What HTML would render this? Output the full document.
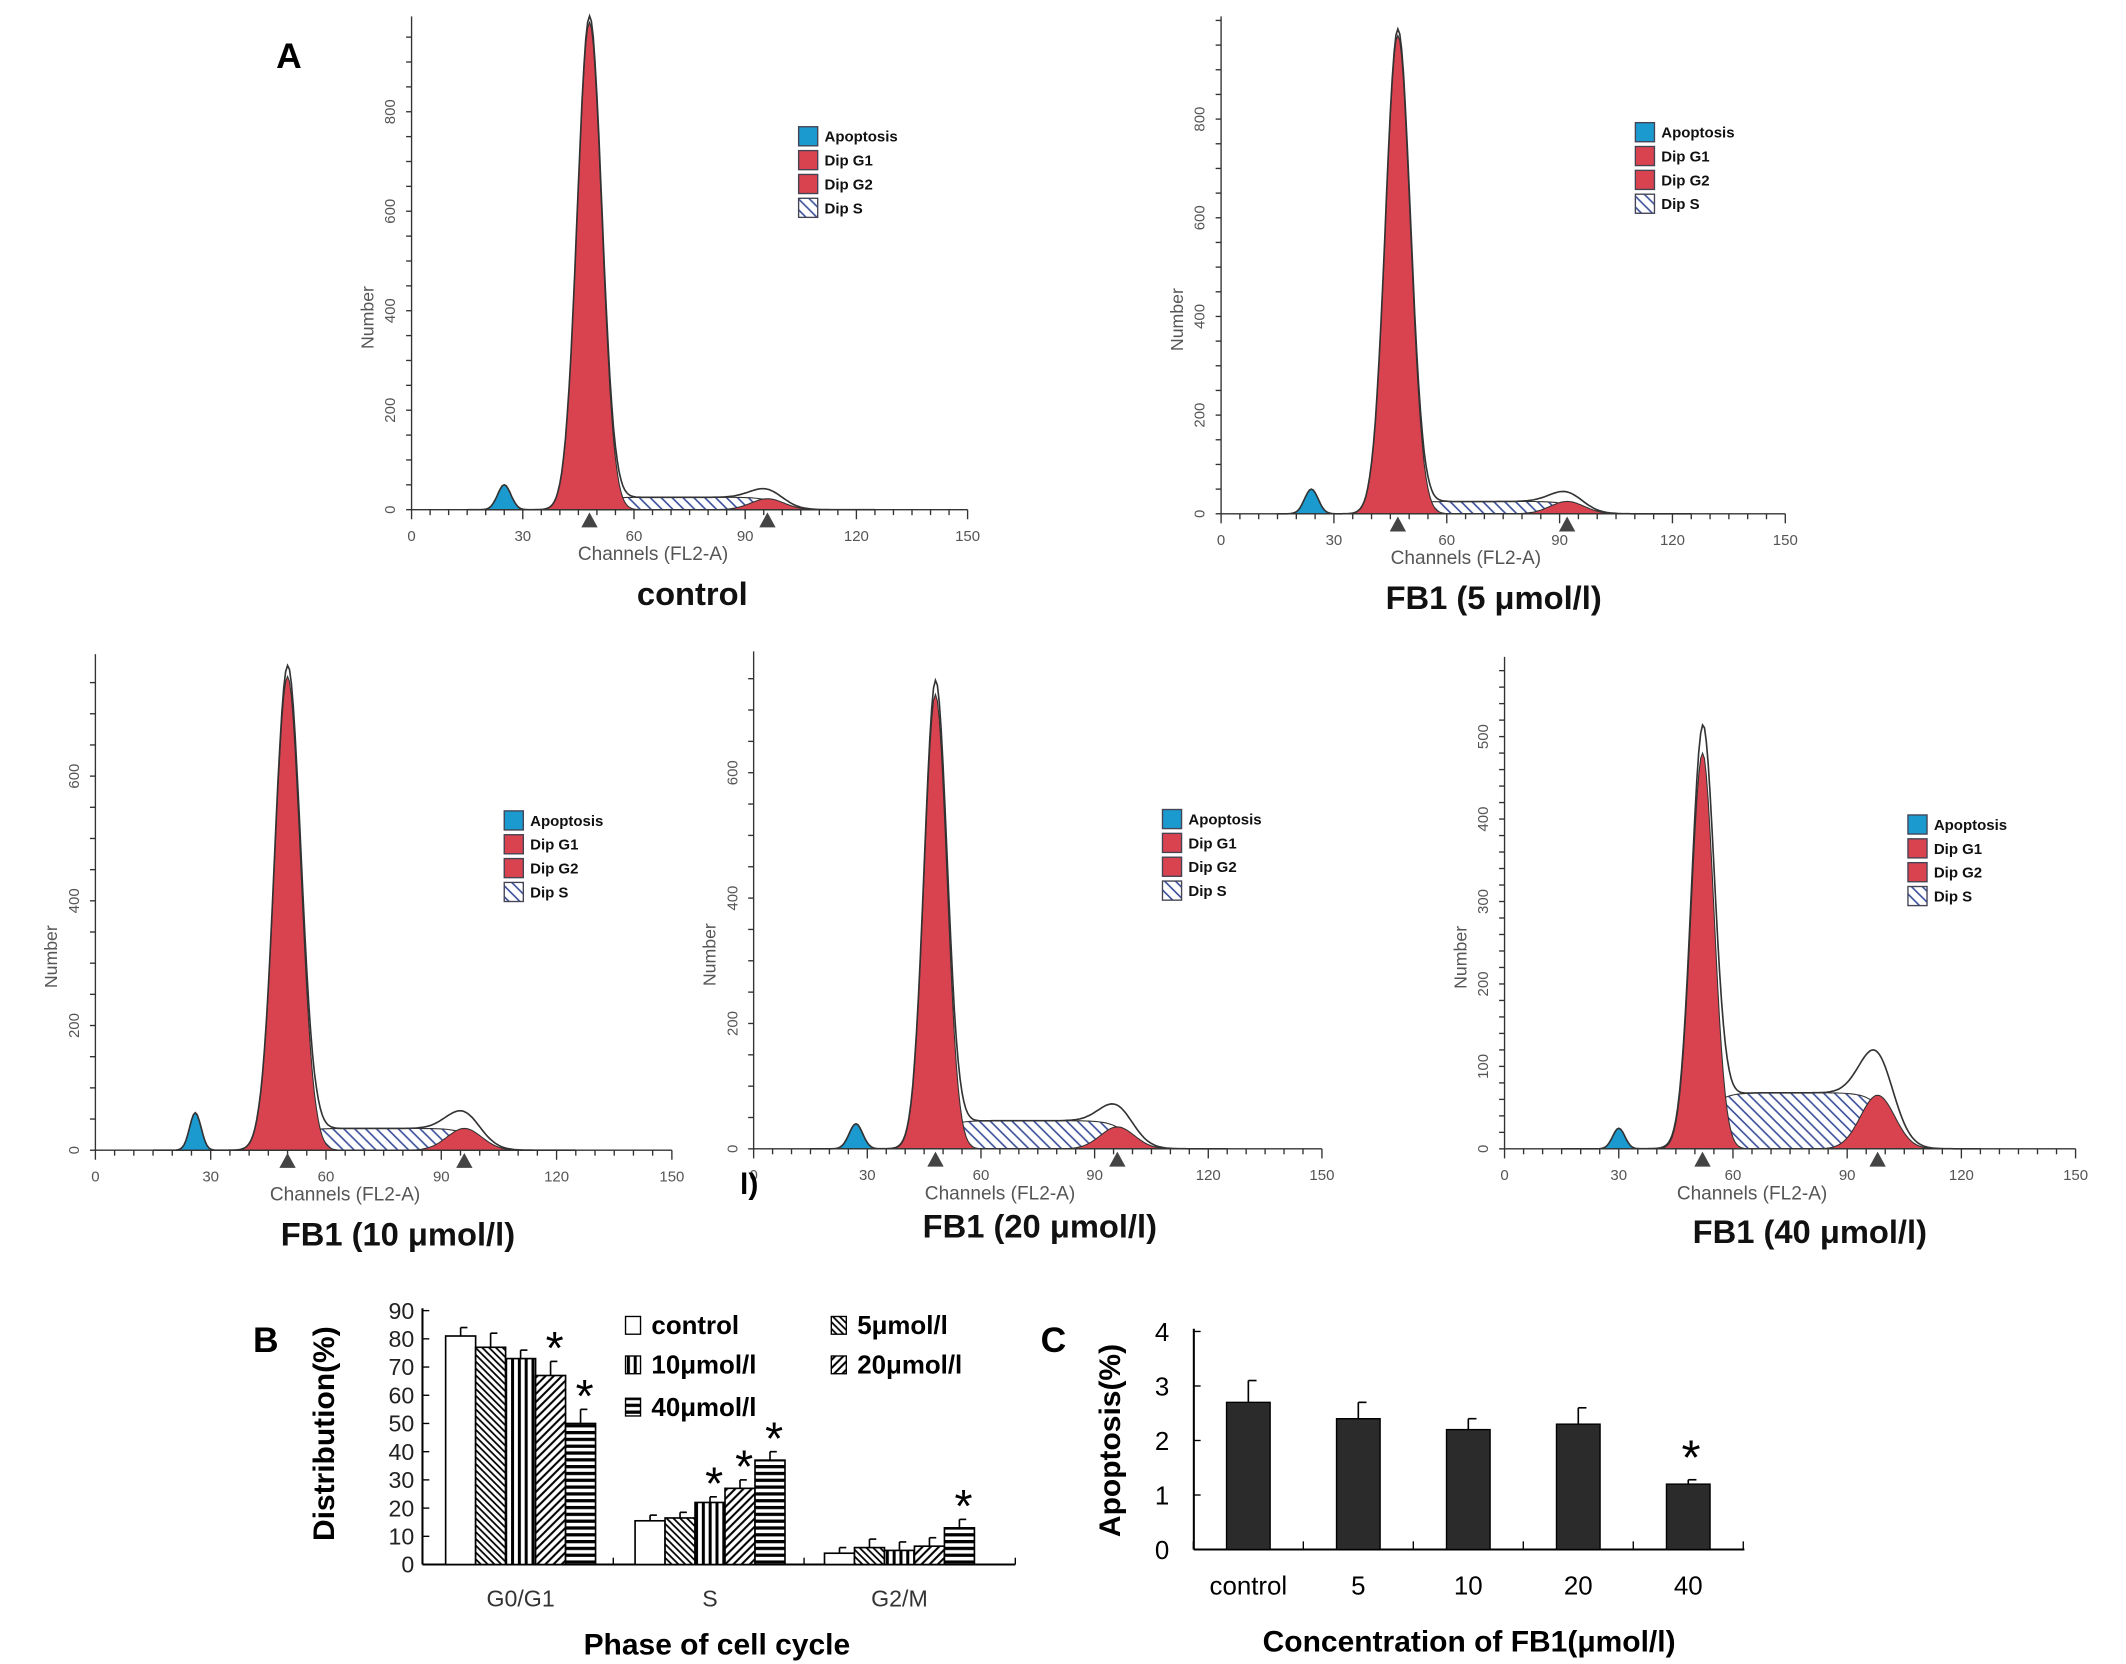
<!DOCTYPE html>
<html><head><meta charset="utf-8"><style>
html,body{margin:0;padding:0;background:#fff}
svg{display:block}
text{font-family:"Liberation Sans",sans-serif}
</style></head><body>
<svg id="fig" width="2126" height="1664" viewBox="0 0 1560 1221" preserveAspectRatio="none" xmlns="http://www.w3.org/2000/svg">
<defs>
<pattern id="hatchS" width="8" height="8" patternUnits="userSpaceOnUse"><rect width="8" height="8" fill="#fff"/><path d="M0,0 L8,8 M-4,4 L4,12 M4,-4 L12,4" stroke="#3a4e9a" stroke-width="1.2"/></pattern>
<pattern id="pBack" width="5" height="5" patternUnits="userSpaceOnUse"><rect width="5" height="5" fill="#fff"/><path d="M0,0 L5,5 M-2.5,2.5 L2.5,7.5 M2.5,-2.5 L7.5,2.5" stroke="#000" stroke-width="1.3"/></pattern>
<pattern id="pVert" width="5" height="5" patternUnits="userSpaceOnUse"><rect width="5" height="5" fill="#fff"/><rect x="0" width="2.2" height="5" fill="#000"/></pattern>
<pattern id="pFwd" width="6" height="6" patternUnits="userSpaceOnUse"><rect width="6" height="6" fill="#fff"/><path d="M0,6 L6,0 M-3,3 L3,-3 M3,9 L9,3" stroke="#000" stroke-width="1.5"/></pattern>
<pattern id="pHor" width="5" height="5" patternUnits="userSpaceOnUse"><rect width="5" height="5" fill="#fff"/><rect y="0" width="5" height="2.4" fill="#000"/></pattern>
</defs>
<g id="root"></g>
</svg>
<script>
// ---------- Histogram panel data ----------
const panelNames = ["control","FB1 (5 \u03bcmol/l)","FB1 (10 \u03bcmol/l)","FB1 (20 \u03bcmol/l)","FB1 (40 \u03bcmol/l)"];
const apopPeak = [[25,50,1.8],[24,50,1.8],[26,60,1.5],[27,40,1.8],[30,25,1.6]];   // channel, height, sigma
const g1Peak = [[48,980,3.3],[47,970,3.3],[50,760,3.4],[48,725,3.0],[52,480,3.0]];
const g2Peak = [[96,22,4.5],[92,25,4.5],[96,35,4.5],[96,35,4.5],[98,65,4.5]];
const sLevel = [25,25,35,45,68];
const yTickVals = [[0,200,400,600,800],[0,200,400,600,800],[0,200,400,600],[0,200,400,600],[0,100,200,300,400,500]];
const yMinor = [50,50,50,50,20];
const xTicks = [0,30,60,90,120,150];
// ---------- Bar chart B ----------
const phases = ["G0/G1","S","G2/M"];
const groups = ["control","5\u03bcmol/l","10\u03bcmol/l","20\u03bcmol/l","40\u03bcmol/l"];
const distVals = [[81,77,73,67,50],[15.5,16.5,22,27,37],[4,6,5,6.5,13]];
const distErr = [[3,5,3,5,5],[2,2,2,3,3],[2,3,3,3,3]];
const distStar = [[0,0,0,1,1],[0,0,1,1,1],[0,0,0,0,1]];
const distTicks = [0,10,20,30,40,50,60,70,80,90];
// ---------- Bar chart C ----------
const concLabels = ["control","5","10","20","40"];
const apopVals = [2.7,2.4,2.2,2.3,1.2];
const apopErr = [0.4,0.3,0.2,0.3,0.08];
const apopStar = [0,0,0,0,1];
const apopTicks = [0,1,2,3,4];

const NS="http://www.w3.org/2000/svg";
const root=document.getElementById('root');
function el(tag,attrs,parent,txt){const e=document.createElementNS(NS,tag);for(const k in attrs)e.setAttribute(k,attrs[k]);if(txt!==undefined)e.textContent=txt;(parent||root).appendChild(e);return e;}

const layout=[
 {ox:302,oy:374,xw:408,ypx:0.365,top:12,lx:586,ly:93,tx:508,ty:444},
 {ox:896,oy:377,xw:414,ypx:0.362,top:12,lx:1200,ly:90,tx:1096,ty:447},
 {ox:70,oy:844,xw:423,ypx:0.4575,top:480,lx:370,ly:595,tx:292,ty:914},
 {ox:553,oy:843,xw:417,ypx:0.46,top:478,lx:853,ly:594,tx:763,ty:908},
 {ox:1104,oy:843,xw:419,ypx:0.605,top:482,lx:1400,ly:598,tx:1328,ty:912}
];
function gauss(x,p){return p[1]*Math.exp(-0.5*Math.pow((x-p[0])/p[2],2));}
function sig(x){return 1/(1+Math.exp(-x));}

panelNames.forEach((nm,i)=>{
 const L=layout[i];
 const g=el('g',{},root);
 
 
 const X=c=>L.ox+c/150*L.xw, Y=v=>L.oy-v*L.ypx;
 const a=apopPeak[i],g1=g1Peak[i],g2=g2Peak[i],s=sLevel[i];
 const sF=c=>s*sig((c-g1[0])/2.5)*sig((g2[0]+3-c)/2.5);
 const cs=[];for(let c=15;c<=125;c+=0.5)cs.push(c);
 const area=(f,fill,name)=>{let d='M'+X(cs[0])+','+Y(0);cs.forEach(c=>{d+=' L'+X(c).toFixed(1)+','+Y(f(c)).toFixed(1);});d+=' L'+X(cs[cs.length-1])+','+Y(0)+'Z';
  const p=el('path',{d:d,fill:fill,stroke:'#333','stroke-width':0.8},g);};
 area(sF,'url(#hatchS)','s-phase-area');
 area(c=>gauss(c,g2),'#d9434f','g2-area');
 area(c=>gauss(c,g1),'#d9434f','g1-area');
 area(c=>gauss(c,a),'#1b9ad0','apoptosis-area');
 let d='';cs.forEach((c,k)=>{const v=gauss(c,a)+gauss(c,g1)+gauss(c,g2)+sF(c);d+=(k?' L':'M')+X(c).toFixed(1)+','+Y(v).toFixed(1);});
 const ln=el('path',{d:d,fill:'none',stroke:'#333','stroke-width':1.2},g);
 
 el('line',{x1:L.ox,y1:L.top,x2:L.ox,y2:L.oy,stroke:'#333','stroke-width':1},g);
 el('line',{x1:L.ox,y1:L.oy,x2:X(150),y2:L.oy,stroke:'#333','stroke-width':1},g);
 for(let c=0;c<=150;c+=5){const big=c%30==0;el('line',{x1:X(c),y1:L.oy,x2:X(c),y2:L.oy+(big?7:4),stroke:'#333','stroke-width':1},g);}
 xTicks.forEach(c=>{const t=el('text',{x:X(c),y:L.oy+23,'font-size':11,fill:'#555','text-anchor':'middle'},g,String(c));});
 const maxV=(L.oy-L.top)/L.ypx;
 for(let v=0;v<=maxV;v+=yMinor[i]){el('line',{x1:L.ox,y1:Y(v),x2:L.ox-4,y2:Y(v),stroke:'#333','stroke-width':1},g);}
 yTickVals[i].forEach(v=>{const t=el('text',{x:L.ox-12,y:Y(v),'font-size':11,fill:'#555','text-anchor':'middle',transform:`rotate(-90 ${L.ox-12} ${Y(v)})`},g,String(v));});
 const yt=el('text',{x:L.ox-28,y:(L.oy+L.top)/2+40,'font-size':13,fill:'#555','text-anchor':'middle',transform:`rotate(-90 ${L.ox-28} ${(L.oy+L.top)/2+40})`},g,'Number');
 
 const xt=el('text',{x:X(60)+14,y:L.oy+37,'font-size':14,fill:'#555','text-anchor':'middle'},g,'Channels (FL2-A)');
 
 [g1[0],g2[0]].forEach(c=>{el('path',{d:`M${X(c)-6},${L.oy+13} L${X(c)+6},${L.oy+13} L${X(c)},${L.oy+2}Z`,fill:'#444'},g);});
 const lg=el('g',{},g);
 [['Apoptosis','#1b9ad0'],['Dip G1','#d9434f'],['Dip G2','#d9434f'],['Dip S','url(#hatchS)']].forEach((e,k)=>{
  el('rect',{x:L.lx,y:L.ly+k*17.5,width:14,height:14,fill:e[1],stroke:'#445','stroke-width':1},lg);
  const t=el('text',{x:L.lx+19,y:L.ly+k*17.5+11,'font-size':11,'font-weight':'bold',fill:'#111'},lg,e[0]);
  
 });
 const tt=el('text',{x:L.tx,y:L.ty,'font-size':24,'font-weight':'bold','text-anchor':'middle',fill:'#111'},g,nm);
 
});
const la=el('text',{x:212,y:50,'font-size':26,'font-weight':'bold','font-family':'Liberation Serif','text-anchor':'middle'},root,'A');

el('text',{x:543,y:876,'font-size':22,'font-weight':'bold'},root,'l)');

// ---------- Chart B ----------
(function(){
 const g=el('g',{},root);
 const ox=310,oy=1148,ppu=2.07,bw=22;
 const Y=v=>oy-v*ppu;
 const starts=[327,466,605];
 const fills=['#fff','url(#pBack)','url(#pVert)','url(#pFwd)','url(#pHor)'];
 el('line',{x1:ox,y1:960,x2:ox,y2:oy,stroke:'#000','stroke-width':1.5},g);
 el('line',{x1:ox,y1:oy,x2:745,y2:oy,stroke:'#000','stroke-width':1.5},g);
 distTicks.forEach(v=>{el('line',{x1:ox,y1:Y(v),x2:ox+5,y2:Y(v),stroke:'#000'},g);
  const t=el('text',{x:ox-6,y:Y(v)+6,'font-size':17,'text-anchor':'end',fill:'#222'},g,String(v));});
 [ox,450,590,745].forEach(x=>el('line',{x1:x,y1:oy,x2:x,y2:oy-5,stroke:'#000'},g));
 phases.forEach((ph,pi)=>{
  distVals[pi].forEach((v,k)=>{
   const x=starts[pi]+k*bw;
   const r=el('rect',{x:x,y:Y(v),width:bw,height:v*ppu,fill:fills[k],stroke:'#000','stroke-width':1.2},g);
   
   const e=distErr[pi][k],cx=x+bw/2;
   el('line',{x1:cx,y1:Y(v),x2:cx,y2:Y(v+e),stroke:'#000','stroke-width':1.2},g);
   el('line',{x1:cx,y1:Y(v+e),x2:cx+5,y2:Y(v+e),stroke:'#000','stroke-width':1.2},g);
   if(distStar[pi][k]){const s=el('text',{x:cx+3,y:Y(v+e)+2,'font-size':34,'text-anchor':'middle'},g,'*');}
  });
  const t=el('text',{x:starts[pi]+2.5*bw,y:1179,'font-size':17,'text-anchor':'middle',fill:'#333'},g,ph);
 });
 const lp=[[459,972],[610,972],[459,1001],[610,1001],[459,1032]];
 groups.forEach((gn,k)=>{
  el('rect',{x:lp[k][0],y:lp[k][1]-6,width:11,height:13,fill:fills[k],stroke:'#000'},g);
  const t=el('text',{x:lp[k][0]+19,y:lp[k][1]+7,'font-size':19,'font-weight':'bold'},g,gn);
 });
 const yt=el('text',{x:245,y:1052,'font-size':22,'font-weight':'bold','text-anchor':'middle',transform:'rotate(-90 245 1052)'},g,'Distribution(%)');
 const xt=el('text',{x:526,y:1214,'font-size':22,'font-weight':'bold','text-anchor':'middle'},g,'Phase of cell cycle');
 const lb=el('text',{x:195,y:992,'font-size':26,'font-weight':'bold','font-family':'Liberation Serif','text-anchor':'middle'},g,'B');
})();

// ---------- Chart C ----------
(function(){
 const g=el('g',{},root);
 const ox=876,oy=1137,ppu=40,bw=32,step=80.7,c0=916;
 const Y=v=>oy-v*ppu;
 el('line',{x1:ox,y1:975,x2:ox,y2:oy,stroke:'#000','stroke-width':1.5},g);
 el('line',{x1:ox,y1:oy,x2:1280,y2:oy,stroke:'#000','stroke-width':1.5},g);
 apopTicks.forEach(v=>{el('line',{x1:ox,y1:Y(v),x2:ox+5,y2:Y(v),stroke:'#000'},g);
  const t=el('text',{x:ox-18,y:Y(v)+7,'font-size':19,'text-anchor':'end'},g,String(v));});
 for(let k=0;k<=5;k++){const x=c0-step/2+k*step;el('line',{x1:x,y1:oy,x2:x,y2:oy-6,stroke:'#000'},g);}
 apopVals.forEach((v,k)=>{
  const cx=c0+k*step;
  const r=el('rect',{x:cx-bw/2,y:Y(v),width:bw,height:v*ppu,fill:'#2b2b2b',stroke:'#000'},g);
  
  const e=apopErr[k];
  el('line',{x1:cx,y1:Y(v),x2:cx,y2:Y(v+e),stroke:'#000','stroke-width':1.2},g);
  el('line',{x1:cx,y1:Y(v+e),x2:cx+6,y2:Y(v+e),stroke:'#000','stroke-width':1.2},g);
  if(apopStar[k]){const s=el('text',{x:cx+2,y:Y(v+e)-4,'font-size':36,'text-anchor':'middle'},g,'*');}
  const t=el('text',{x:cx,y:1170,'font-size':19,'text-anchor':'middle'},g,concLabels[k]);
 });
 const yt=el('text',{x:822,y:1057,'font-size':22,'font-weight':'bold','text-anchor':'middle',transform:'rotate(-90 822 1057)'},g,'Apoptosis(%)');
 const xt=el('text',{x:1078,y:1212,'font-size':22,'font-weight':'bold','text-anchor':'middle'},g,'Concentration of FB1(\u03bcmol/l)');
 const lc=el('text',{x:773,y:992,'font-size':26,'font-weight':'bold','font-family':'Liberation Serif','text-anchor':'middle'},g,'C');
})();
</script>
</body></html>
